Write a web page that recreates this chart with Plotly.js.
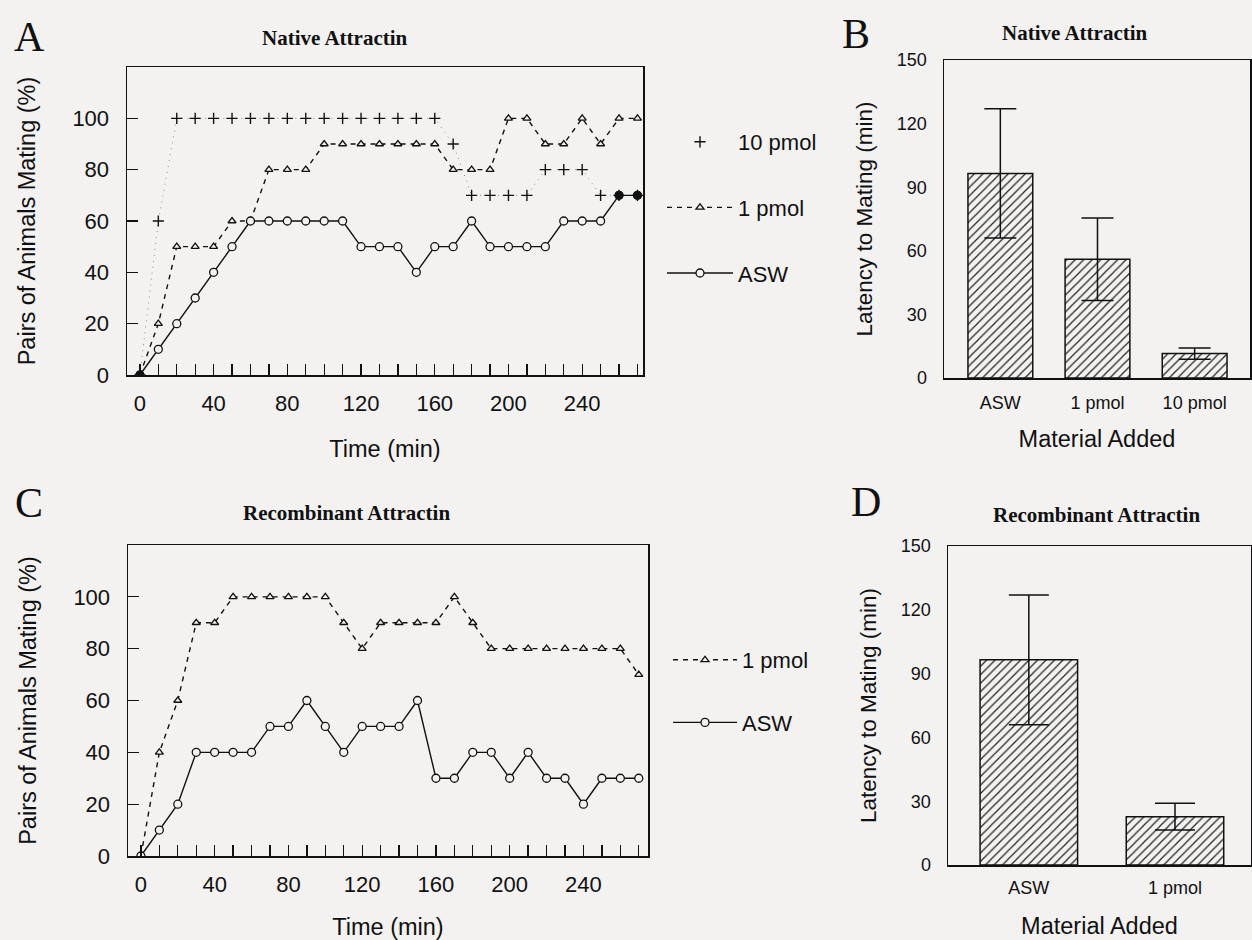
<!DOCTYPE html>
<html>
<head>
<meta charset="utf-8">
<script src="https://cdn.plot.ly/plotly-3.0.1.min.js"></script>
<style>html,body{margin:0;padding:0;background:#f3f2f1;}</style>
</head>
<body>
<div id="chart" style="width:1252px;height:940px;"></div>
<script>
// ---------- data ----------
const timeMin = [0,10,20,30,40,50,60,70,80,90,100,110,120,130,140,150,160,170,180,190,200,210,220,230,240,250,260,270];
const xTickLabels = ['0','40','80','120','160','200','240'];

// Panel A: Native Attractin (% pairs mating)
const nativePmol10 = [0,60,100,100,100,100,100,100,100,100,100,100,100,100,100,100,100,90,70,70,70,70,80,80,80,70,70,70];
const nativePmol1  = [0,20,50,50,50,60,60,80,80,80,90,90,90,90,90,90,90,80,80,80,100,100,90,90,100,90,100,100];
const nativeASW    = [0,10,20,30,40,50,60,60,60,60,60,60,50,50,50,40,50,50,60,50,50,50,50,60,60,60,70,70];

// Panel C: Recombinant Attractin (% pairs mating)
const recPmol1 = [0,40,60,90,90,100,100,100,100,100,100,90,80,90,90,90,90,100,90,80,80,80,80,80,80,80,80,70];
const recASW   = [0,10,20,40,40,40,40,50,50,60,50,40,50,50,50,60,30,30,40,40,30,40,30,30,20,30,30,30];

// Panel B: latency to mating, native
const nativeCats = ['ASW','1 pmol','10 pmol'];
const nativeLatency = [96.5, 56, 11.5];
const nativeLatencyErr = [30.5, 19.5, 2.7];

// Panel D: latency to mating, recombinant
const recCats = ['ASW','1 pmol'];
const recLatency = [96.5, 22.7];
const recLatencyErr = [30.5, 6.3];

// ---------- helpers ----------
const W = 1252, H = 940;
const BG = '#f3f2f1';
const INK = '#111';
const px = v => v / W;
const py = v => 1 - v / H;
const SANS = 'Liberation Sans, Arial, Helvetica, sans-serif';
const SERIF = 'Liberation Serif, Times New Roman, serif';

const xtv = timeMin.slice();
const xtt = timeMin.map(t => xTickLabels.includes(String(t)) ? String(t) : '');

// points where ASW coincides with 10 pmol are drawn as filled dots
const ovX = [], ovY = [];
nativeASW.forEach((v, i) => { if (v === nativePmol10[i]) { ovX.push(timeMin[i]); ovY.push(v); } });

const traces = [
  // 10 pmol: faint dotted connector (no legend) + cross markers (legend)
  { x: timeMin, y: nativePmol10, xaxis: 'x', yaxis: 'y', mode: 'lines', showlegend: false,
    line: { color: '#8a8a8a', width: 1, dash: '1px,5px' }, legend: 'legend' },
  { x: timeMin, y: nativePmol10, name: '10 pmol', xaxis: 'x', yaxis: 'y', mode: 'markers',
    marker: { symbol: 'cross-thin-open', size: 8, color: INK, line: { color: INK, width: 1.4 } },
    legend: 'legend', legendgroup: 'a1' },
  { x: timeMin, y: nativePmol1, name: '1 pmol', xaxis: 'x', yaxis: 'y', mode: 'lines+markers',
    line: { color: INK, width: 1.4, dash: '5px,5px' },
    marker: { symbol: 'triangle-up', size: 7, color: BG, line: { color: INK, width: 1.3 } },
    legend: 'legend', legendgroup: 'a2' },
  { x: timeMin, y: nativeASW, name: 'ASW', xaxis: 'x', yaxis: 'y', mode: 'lines+markers',
    line: { color: INK, width: 1.4 },
    marker: { symbol: 'circle', size: 8, color: BG, line: { color: INK, width: 1.3 } },
    legend: 'legend', legendgroup: 'a3' },
  { x: ovX, y: ovY, xaxis: 'x', yaxis: 'y', mode: 'markers', showlegend: false,
    marker: { symbol: 'circle', size: 8, color: INK, line: { color: INK, width: 1 } } },

  { x: timeMin, y: recPmol1, name: '1 pmol', xaxis: 'x3', yaxis: 'y3', mode: 'lines+markers',
    line: { color: INK, width: 1.4, dash: '5px,5px' },
    marker: { symbol: 'triangle-up', size: 7, color: BG, line: { color: INK, width: 1.3 } },
    legend: 'legend2', legendgroup: 'c1' },
  { x: timeMin, y: recASW, name: 'ASW', xaxis: 'x3', yaxis: 'y3', mode: 'lines+markers',
    line: { color: INK, width: 1.4 },
    marker: { symbol: 'circle', size: 8, color: BG, line: { color: INK, width: 1.3 } },
    legend: 'legend2', legendgroup: 'c2' },

  { type: 'bar', x: nativeCats, y: nativeLatency, xaxis: 'x2', yaxis: 'y2', showlegend: false, width: 0.667,
    marker: { color: BG, line: { color: INK, width: 1.5 },
      pattern: { shape: '/', fgcolor: '#222', bgcolor: BG, size: 6, solidity: 0.2 } },
    error_y: { type: 'data', array: nativeLatencyErr, visible: true, color: INK, thickness: 1.5, width: 16 } },
  { type: 'bar', x: recCats, y: recLatency, xaxis: 'x4', yaxis: 'y4', showlegend: false, width: 0.667,
    marker: { color: BG, line: { color: INK, width: 1.5 },
      pattern: { shape: '/', fgcolor: '#222', bgcolor: BG, size: 6, solidity: 0.2 } },
    error_y: { type: 'data', array: recLatencyErr, visible: true, color: INK, thickness: 1.5, width: 20 } }
];

const tickFont = { family: SANS, size: 22, color: INK };
const titleFont = { family: SANS, size: 23.5, color: INK };
const latTitleFont = { family: SANS, size: 22.5, color: INK };
const barTickFont = { family: SANS, size: 18, color: INK };

function timeX(domain, range, anchor) {
  return { domain, range, anchor, tickvals: xtv, ticktext: xtt, ticks: 'inside', ticklen: 11, tickwidth: 1.3,
    tickcolor: INK, showline: true, linecolor: INK, linewidth: 1.5, mirror: true, showgrid: false,
    zeroline: false, tickfont: tickFont, ticklabelstandoff: 8,
    title: { text: 'Time (min)', font: titleFont, standoff: 25 } };
}
function pctY(domain, anchor) {
  return { domain, range: [0, 120], anchor, tickvals: [0,20,40,60,80,100], ticks: 'inside', ticklen: 11, tickwidth: 1.3,
    tickcolor: INK, showline: true, linecolor: INK, linewidth: 1.5, mirror: true, showgrid: false,
    zeroline: false, tickfont: tickFont, ticklabelstandoff: 12,
    title: { text: 'Pairs of Animals Mating (%)', font: titleFont, standoff: 30 } };
}
function catX(domain, range, anchor, standoff, titleStandoff) {
  return { domain, range, anchor, type: 'category', ticks: '', showline: true, linecolor: INK, linewidth: 1.5,
    mirror: true, showgrid: false, zeroline: false, tickfont: barTickFont, ticklabelstandoff: standoff,
    title: { text: 'Material Added', font: titleFont, standoff: titleStandoff } };
}
function latY(domain, anchor) {
  return { domain, range: [0, 150], anchor, tickvals: [0,30,60,90,120,150], ticks: '', showline: true,
    linecolor: INK, linewidth: 1.5, mirror: true, showgrid: false, zeroline: false, tickfont: barTickFont,
    ticklabelstandoff: 12, title: { text: 'Latency to Mating (min)', font: latTitleFont, standoff: 18 } };
}

function ann(text, x, y, font) {
  return { text, x: px(x), y: py(y), xref: 'paper', yref: 'paper', xanchor: 'center', yanchor: 'middle',
    showarrow: false, font };
}
const letterFont = { family: SERIF, size: 42, color: INK };
const panelTitleFont = { family: SERIF, size: 21, color: INK, weight: 'bold' };

const layout = {
  width: W, height: H, margin: { l: 0, r: 0, t: 0, b: 0 },
  paper_bgcolor: BG, plot_bgcolor: BG, showlegend: true,
  xaxis: timeX([px(127), px(643)], [-7, 273], 'y'),
  yaxis: pctY([py(375), py(67)], 'x'),
  xaxis3: timeX([px(128), px(648)], [-7, 275], 'y3'),
  yaxis3: pctY([py(856), py(545)], 'x3'),
  xaxis2: catX([px(944), px(1250)], [-0.58, 2.57], 'y2', 8, 18),
  yaxis2: latY([py(378), py(60)], 'x2'),
  xaxis4: catX([px(948), px(1251)], [-0.553, 1.52], 'y4', 6, 20),
  yaxis4: latY([py(865), py(546)], 'x4'),
  legend: { x: px(662), y: py(121), xanchor: 'left', yanchor: 'top', bgcolor: 'rgba(0,0,0,0)',
    font: { family: SANS, size: 22, color: INK }, tracegroupgap: 34, itemwidth: 66, traceorder: 'grouped' },
  legend2: { x: px(668), y: py(639), xanchor: 'left', yanchor: 'top', bgcolor: 'rgba(0,0,0,0)',
    font: { family: SANS, size: 22, color: INK }, tracegroupgap: 31, itemwidth: 64, traceorder: 'grouped' },
  annotations: [
    ann('A', 29, 37, letterFont),
    ann('B', 856, 34, letterFont),
    ann('C', 29, 503, letterFont),
    ann('D', 866, 502, letterFont),
    ann('Native Attractin', 335, 38, panelTitleFont),
    ann('Native Attractin', 1075, 33, panelTitleFont),
    ann('Recombinant Attractin', 346, 513, panelTitleFont),
    ann('Recombinant Attractin', 1096, 515, panelTitleFont)
  ]
};

Plotly.newPlot('chart', traces, layout, { staticPlot: true, displayModeBar: false });
</script>
</body>
</html>
